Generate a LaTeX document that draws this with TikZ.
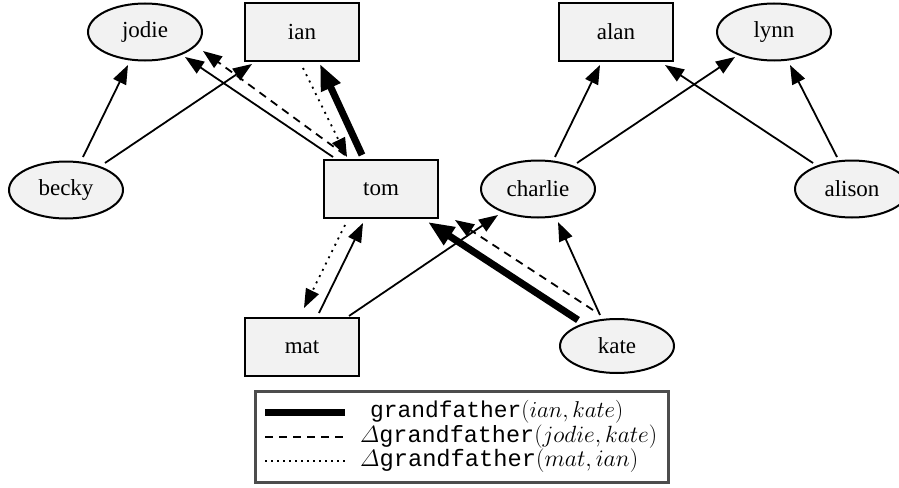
\RequirePackage{fix-cm}
\documentclass[tikz,border=0pt]{standalone}
\usepackage{amsmath}
\usepackage{graphicx}
\usepackage[no-math]{fontspec}
\setmainfont{Liberation Serif}
\setmonofont{Liberation Mono}
\usetikzlibrary{arrows.meta,shapes.geometric,backgrounds}
\definecolor{ndfill}{HTML}{F2F2F2}
\definecolor{leggray}{HTML}{4D4D4D}
\begin{document}
\begin{tikzpicture}[x=1pt,y=-1pt,
  every node/.style={font=\fontsize{23}{27}\selectfont},
  nd/.style={draw, line width=2pt, fill=ndfill, inner sep=0pt},
  ebox/.style={nd, ellipse, minimum width=114pt, minimum height=57pt},
  rbox/.style={nd, rectangle, minimum width=114pt, minimum height=58pt},
  link/.style={line width=1.8pt, -{Triangle[length=19pt,width=14pt]}},
  thickline/.style={line width=7pt, -{Triangle[length=26pt,width=20pt]}},
  dashline/.style={link, dash pattern=on 8pt off 6pt},
  dotline/.style={link, dash pattern=on 2pt off 5pt},
  legtext/.style={anchor=west, inner sep=0pt, font=\fontsize{22}{26}\selectfont}]
\useasboundingbox (0,0) rectangle (899,487);

% nodes
\node[ebox] (jodie) at (145,32) {jodie};
\node[rbox] (ian) at (302,32) {ian};
\node[rbox] (alan) at (616,32) {alan};
\node[ebox] (lynn) at (774,32) {lynn};
\node[ebox] (becky) at (66,190) {becky};
\node[rbox] (tom) at (381,189) {tom};
\node[ebox] (charlie) at (538,189) {charlie};
\node[ebox] (alison) at (852,189) {alison};
\node[rbox] (mat) at (302,347) {mat};
\node[ebox, minimum height=54pt] (kate) at (617,346) {kate};

% edges
\begin{pgfonlayer}{background}
\draw[link] ([shift={(17,-33)}]becky.center) -- ([shift={(-17,33)}]jodie.center);
\draw[link] ([shift={(39,-27)}]becky.center) -- ([shift={(-50,32)}]ian.center);
\draw[link] ([shift={(-48,-32)}]tom.center) -- ([shift={(40,25)}]jodie.center);
\draw[dashline] ([shift={(-36,-34)}]tom.center) -- ([shift={(58,19)}]jodie.center);
\draw[dotline] ([shift={(1,36)}]ian.center) -- ([shift={(-34,-32)}]tom.center);
\draw[thickline] ([shift={(-19,-34)}]tom.center) -- ([shift={(18,32)}]ian.center);
\draw[dotline] ([shift={(-36,36)}]tom.center) -- ([shift={(2,-39)}]mat.center);
\draw[link] ([shift={(17,-34)}]mat.center) -- ([shift={(-18,34)}]tom.center);
\draw[link] ([shift={(47,-31)}]mat.center) -- ([shift={(-40,26)}]charlie.center);
\draw[thickline] ([shift={(-39,-26)}]kate.center) -- ([shift={(47,33)}]tom.center);
\draw[dashline] ([shift={(-24,-36)}]kate.center) -- ([shift={(74,31)}]tom.center);
\draw[link] ([shift={(-17,-31)}]kate.center) -- ([shift={(20,33)}]charlie.center);
\draw[link] ([shift={(17,-32)}]charlie.center) -- ([shift={(-16,33)}]alan.center);
\draw[link] ([shift={(39,-26)}]charlie.center) -- ([shift={(-39,25)}]lynn.center);
\draw[link] ([shift={(-39,-26)}]alison.center) -- ([shift={(49,33)}]alan.center);
\draw[link] ([shift={(-15,-32)}]alison.center) -- ([shift={(16,33)}]lynn.center);
\end{pgfonlayer}

% legend
\node[draw=leggray, line width=3pt, minimum width=413pt, minimum height=91pt, inner sep=0pt] (legend) at (462,437) {};
\draw[line width=7pt] (265,412) -- (345,412);
\draw[line width=1.8pt, dash pattern=on 8pt off 6pt] (265,437) -- (345,437);
\draw[line width=1.5pt, dash pattern=on 1.5pt off 4.5pt] (265,461) -- (345,461);
\node[legtext] (l1) at (370,412) {\resizebox{253pt}{!}{\texttt{grandfather}$(ian, kate)$}};
\node[legtext] (l2) at (360,437) {\resizebox{297pt}{!}{$\varDelta$\texttt{grandfather}$(jodie, kate)$}};
\node[legtext] (l3) at (360,461) {\resizebox{278pt}{!}{$\varDelta$\texttt{grandfather}$(mat, ian)$}};
\end{tikzpicture}
\end{document}
